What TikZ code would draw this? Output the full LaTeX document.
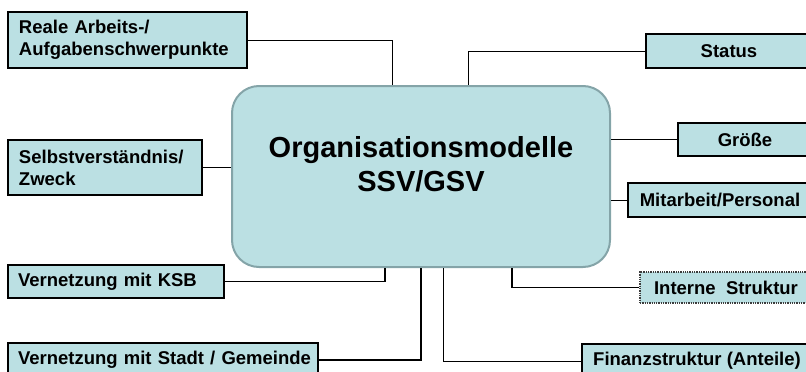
\documentclass[tikz,border=0pt]{standalone}
\usepackage{fontspec}
\setmainfont{Liberation Sans}
\usepackage{tikz}
\usetikzlibrary{positioning,calc}
\usepackage{xcolor}
\definecolor{ssvteal}{RGB}{187,224,227}
\definecolor{ssvframe}{RGB}{132,164,168}
\definecolor{ssvdots}{RGB}{60,60,60}

\begin{document}
\begin{tikzpicture}[
    x=1pt, y=-1pt,
    topic/.style={rectangle, draw=black, line width=2.2pt, fill=ssvteal, inner sep=0pt, font=\fontsize{18.5}{22}\bfseries\selectfont},
    lefttopic/.style={topic, align=left},
    righttopic/.style={topic, align=center},
    dottopic/.style={righttopic, draw=ssvdots, line width=1.3pt, densely dotted},
    mainbox/.style={rectangle, rounded corners=27pt, draw=ssvframe, line width=2pt, fill=ssvteal, minimum width=378pt, minimum height=181pt},
    title/.style={align=center, font=\fontsize{29}{34}\bfseries\selectfont},
    link/.style={draw=black, line width=0.9pt},
    thicklink/.style={draw=black, line width=1.7pt}
]
\useasboundingbox (0,0) rectangle (806,372);
\clip (0,0) rectangle (806,372);

\node[mainbox] (main) at (421,176.5) {};
\node[title] (title) at (421,164) {Organisationsmodelle\\SSV/GSV};

% left column
\node[lefttopic, minimum width=239pt, minimum height=56pt, text width=217pt] (reale) at (127.5,40) {Reale Arbeits-/\\Aufgabenschwerpunkte};
\node[lefttopic, minimum width=194pt, minimum height=55pt, text width=172pt] (selbst) at (105,167.5) {Selbstverständnis/\\Zweck};
\node[lefttopic, minimum width=216pt, minimum height=33pt, text width=196pt] (ksb) at (116,281.5) {Vernetzung mit KSB};
\node[lefttopic, minimum width=310pt, minimum height=34pt, text width=290pt] (stadt) at (163,360) {\mbox{Vernetzung mit Stadt / Gemeinde}};

% right column
\node[righttopic, minimum width=166pt, minimum height=34pt] (status) at (729,51) {Status};
\node[righttopic, minimum width=134pt, minimum height=33pt] (groesse) at (745,139.5) {Größe};
\node[righttopic, minimum width=184pt, minimum height=34pt] (personal) at (720,200) {Mitarbeit/Personal};
\node[dottopic, minimum width=172pt, minimum height=31pt] (intern) at (726,287.5) {Interne\ \ Struktur};
\node[righttopic, minimum width=230pt, minimum height=34pt] (finanz) at (697,361) {Finanzstruktur (Anteile)};

% connectors
\draw[link] (reale.east) -| ([xshift=-29pt]main.north);
\draw[link] (status.west) -| ([xshift=47pt]main.north);
\draw[link] (selbst.east) -- (selbst.east -| main.west);
\draw[link] (groesse.west) -- (groesse.west -| main.east);
\draw[link] (personal.west) -- (personal.west -| main.east);
\draw[thicklink] (ksb.east) -| ([xshift=-36pt]main.south);
\draw[thicklink] (stadt.east) -| (main.south);
\draw[link] (finanz.west) -| ([xshift=22pt]main.south);
\draw[thicklink] (intern.west) -| ([xshift=91pt]main.south);
\end{tikzpicture}
\end{document}
